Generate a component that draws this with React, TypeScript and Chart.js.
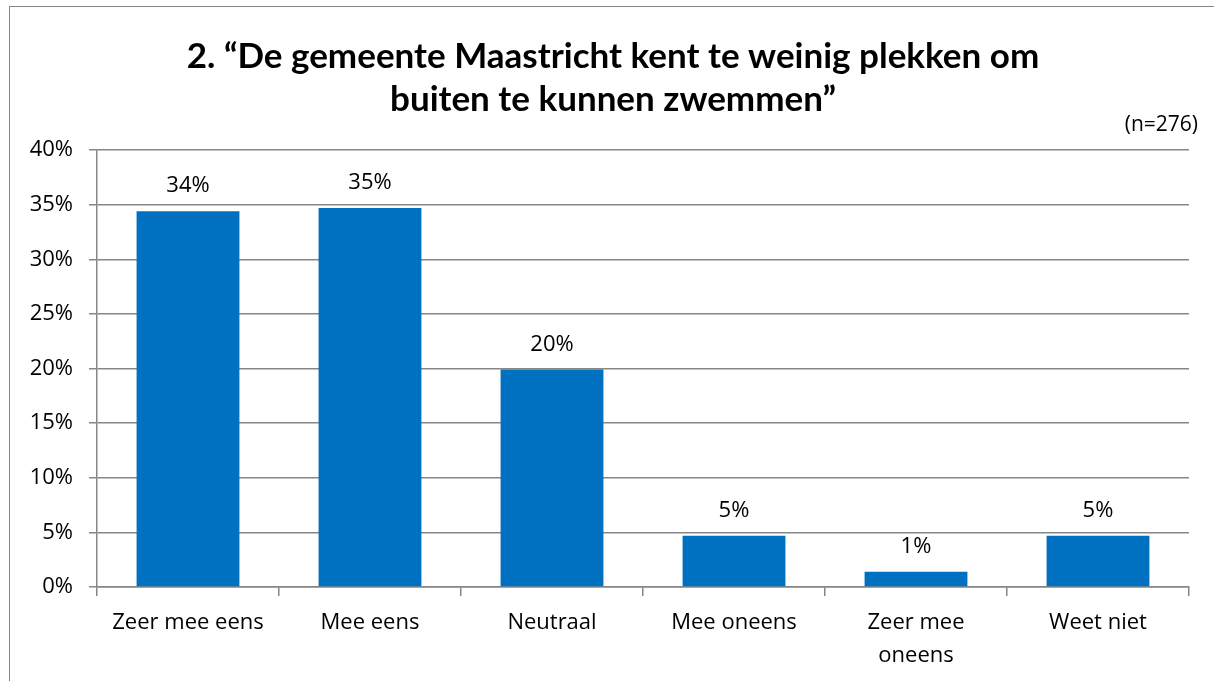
import React, { useEffect, useRef } from "react";
import { Chart, registerables } from "chart.js";

Chart.register(...registerables);

const titleLines = ["2. \u201CDe gemeente Maastricht kent te weinig plekken om", "buiten te kunnen zwemmen\u201D"];
const subtitleText = "(n=276)";
const categories: string[][] = [["Zeer mee eens"], ["Mee eens"], ["Neutraal"], ["Mee oneens"], ["Zeer mee", "oneens"], ["Weet niet"]];
const values = [34.4, 34.7, 19.9, 4.7, 1.4, 4.7];
const yMin = 0;
const yMax = 40;
const yStep = 5;

const TITLE_FONT = "Lato";
const FONT = "Open Sans";
const TEXT_SIZE = 22;
const BAR = "#0070C0";
const GRID = "#868686";

const textPlugin = {
  id: "texts",
  afterDraw(chart: any) {
    const ctx = chart.ctx;
    const area = chart.chartArea;
    ctx.save();
    ctx.fillStyle = "#000";
    ctx.textBaseline = "middle";
    // title
    ctx.font = `bold 35px ${TITLE_FONT}`;
    ctx.textAlign = "center";
    const cx = 613;
    ctx.fillText(titleLines[0], cx, 57);
    ctx.fillText(titleLines[1], cx, 100);
    // subtitle
    ctx.font = `${TEXT_SIZE - 1}px ${FONT}`;
    ctx.textAlign = "right";
    ctx.fillText(subtitleText, chart.width - 16, area.top - 25);
    ctx.restore();
  },
  afterDatasetsDraw(chart: any) {
    const ctx = chart.ctx;
    const meta = chart.getDatasetMeta(0);
    ctx.save();
    ctx.font = `${TEXT_SIZE}px ${FONT}`;
    ctx.fillStyle = "#000";
    ctx.textAlign = "center";
    ctx.textBaseline = "middle";
    meta.data.forEach((el: any, i: number) => {
      ctx.fillText(Math.round(values[i]) + "%", el.x, el.y - 25);
    });
    ctx.restore();
  },
};

export default function App() {
  const ref = useRef<HTMLCanvasElement | null>(null);
  useEffect(() => {
    if (!ref.current) return;
    const chart = new Chart(ref.current, {
      type: "bar",
      data: {
        labels: categories,
        datasets: [
          {
            data: values,
            backgroundColor: BAR,
            borderWidth: 0,
            barPercentage: 0.565,
            categoryPercentage: 1,
          },
        ],
      },
      options: {
        animation: false,
        responsive: false,
        maintainAspectRatio: false,
        layout: { padding: { left: 0, right: 25, top: 150, bottom: 0 } },
        plugins: {
          legend: { display: false },
          tooltip: { enabled: false },
          title: { display: false },
        },
        scales: {
          x: {
            grid: { display: true, drawOnChartArea: false, drawTicks: true, tickLength: 9, color: GRID, offset: true, lineWidth: 1.5 },
            border: { color: GRID, width: 1.5 },
            ticks: { color: "#000", font: { family: FONT, size: TEXT_SIZE, lineHeight: 1.5 }, padding: 10, maxRotation: 0, autoSkip: false },
            afterFit: (s: any) => {
              s.height = 94;
            },
          },
          y: {
            min: yMin,
            max: yMax,
            grid: { color: GRID, tickLength: 8, lineWidth: 1.5 },
            border: { color: GRID, width: 1.5 },
            ticks: {
              stepSize: yStep,
              color: "#000",
              font: { family: FONT, size: TEXT_SIZE },
              padding: 16,
              callback: (v: any) => v + "%",
            },
            afterFit: (s: any) => {
              s.width = 97;
            },
          },
        },
      },
      plugins: [textPlugin],
    });
    return () => chart.destroy();
  }, []);
  return (
    <div style={{ position: "fixed", left: 0, top: 0, width: 1214, height: 681, background: "#fff", overflow: "hidden" }}>
      <canvas ref={ref} width={1214} height={681} style={{ position: "absolute", left: 0, top: 0 }} />
      <div
        style={{
          position: "absolute",
          left: 9,
          top: 6,
          width: 1220,
          height: 700,
          border: "1.5px solid #868686",
          boxSizing: "border-box",
          pointerEvents: "none",
        }}
      />
    </div>
  );
}
